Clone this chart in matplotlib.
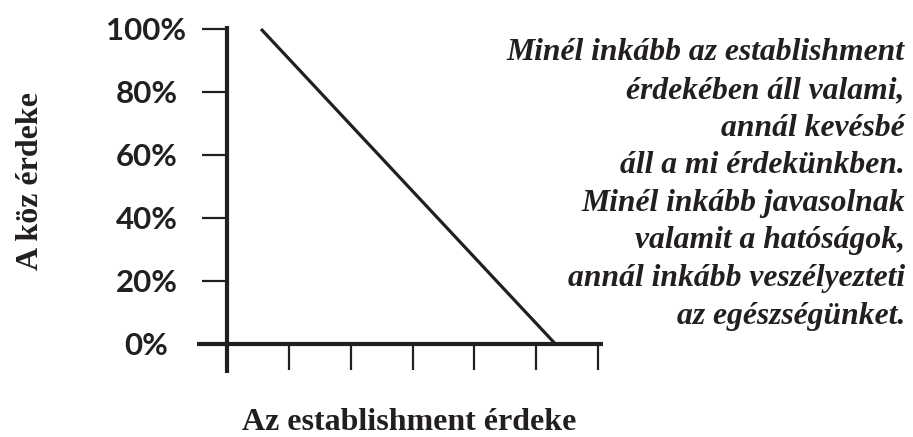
"""Establishment vs. public interest -- falling line chart, recreated."""
import matplotlib
matplotlib.use("Agg")
import matplotlib.pyplot as plt

# data: straight line from top-left to bottom-right (x in tick units)
line_x = [0.55, 5.31]
line_y = [100, 0]
y_ticks = [0, 20, 40, 60, 80, 100]
y_tick_labels = ["0%", "20%", "40%", "60%", "80%", "100%"]
x_ticks = [1, 2, 3, 4, 5, 6]

x_label = "Az establishment érdeke"
y_label = "A köz érdeke"
note_lines = [
    "Minél inkább az establishment",
    "érdekében áll valami,",
    "annál kevésbé",
    "áll a mi érdekünkben.",
    "Minél inkább javasolnak",
    "valamit a hatóságok,",
    "annál inkább veszélyezteti",
    "az egészségünket.",
]

INK = "#231f20"
SERIF = ["Liberation Serif", "DejaVu Serif"]

fig = plt.figure(figsize=(9.13, 4.37), dpi=100)
ax = fig.add_axes([0.2158, 0.1465, 0.4447, 0.794])

ax.plot(line_x, line_y, color=INK, lw=2.3, solid_capstyle="butt")
ax.set_xlim(-0.485, 6.08)
ax.set_ylim(-9.2, 100.95)

for side in ("top", "right"):
    ax.spines[side].set_visible(False)
ax.spines["left"].set_position(("data", 0))
ax.spines["bottom"].set_position(("data", 0))
for side in ("left", "bottom"):
    ax.spines[side].set_linewidth(3.0)
    ax.spines[side].set_color(INK)
    ax.spines[side].set_capstyle("butt")

ax.set_yticks(y_ticks)
ax.set_yticklabels(y_tick_labels)
ax.tick_params(axis="y", direction="out", length=18, width=1.6, color=INK,
               pad=40, labelsize=22.5, labelcolor=INK)
for lab in ax.get_yticklabels():
    lab.set_horizontalalignment("center")
    lab.set_fontfamily("Lato")
    lab.set_fontweight("bold")

ax.set_xticks(x_ticks)
ax.set_xticklabels([])
ax.tick_params(axis="x", direction="out", length=19, width=1.6, color=INK)

fig.text(0.448, 0.016, x_label, ha="center", va="baseline", fontsize=23,
         fontweight="bold", family=SERIF, color=INK)
fig.text(0.033, 0.586, y_label, ha="center", va="center", rotation=90,
         fontsize=23, fontweight="bold", family=SERIF, color=INK)
fig.text(0.991, 0.912, "\n".join(note_lines), ha="right", va="top",
         fontsize=22.8, fontweight="bold", fontstyle="italic", family=SERIF,
         color=INK, linespacing=1.39)

fig.savefig("out.png", dpi=100)
